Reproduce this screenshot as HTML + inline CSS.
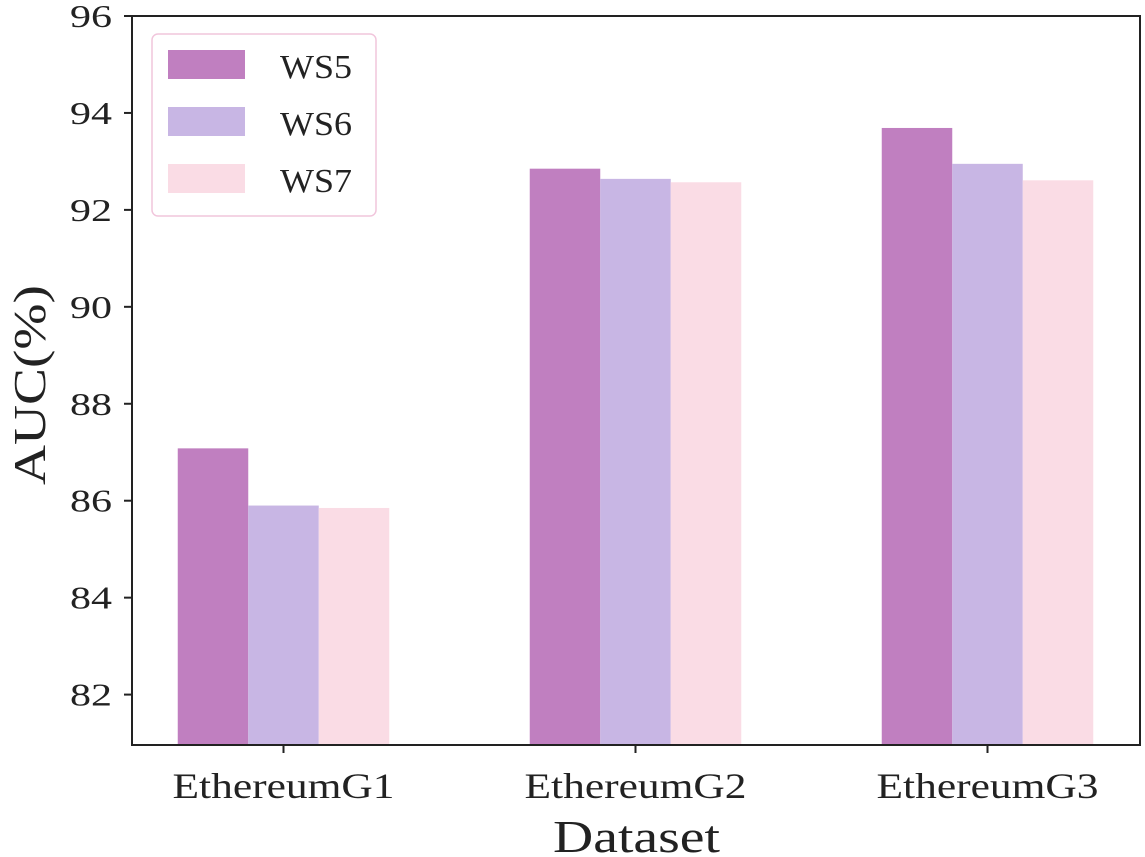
<!DOCTYPE html>
<html><head><meta charset="utf-8"><style>
body{margin:0;background:#fff}
svg{display:block;font-family:"Liberation Serif",serif}
</style></head><body>
<svg id="c" width="1145" height="857"></svg>
<script>
const categories=["EthereumG1","EthereumG2","EthereumG3"];
const seriesNames=["WS5","WS6","WS7"];
const ws5=[87.08,92.85,93.69];
const ws6=[85.9,92.64,92.95];
const ws7=[85.85,92.57,92.61];
const yTicks=[82,84,86,88,90,92,94,96];
const colors=["#c07fc0","#c8b6e4","#fadce5"];
const series=[ws5,ws6,ws7];
const svg=document.getElementById('c');
const NS="http://www.w3.org/2000/svg";
const L=132,R=1140,T=16,B=745,ymin=80.96,ymax=96;
const y=v=>B-(v-ymin)/(ymax-ymin)*(B-T);
const bw=70.5;
const xc=i=>283.5+352*i;
function mk(tag,a,txt){const e=document.createElementNS(NS,tag);for(const k in a)e.setAttribute(k,a[k]);if(txt!=null)e.textContent=txt;svg.appendChild(e);return e;}
series.forEach((s,si)=>s.forEach((v,i)=>{
 const r=mk('rect',{x:xc(i)+(si-1.5)*bw,y:y(v),width:bw,height:B-y(v),fill:colors[si]});
 
 
}));
const ax=mk('rect',{x:L,y:T,width:R-L,height:B-T,fill:'none',stroke:'#222','stroke-width':2});

yTicks.forEach(t=>{
 const l=mk('line',{x1:L-8,x2:L,y1:y(t),y2:y(t),stroke:'#222','stroke-width':2});
 
 const tx=mk('text',{x:L-20,y:y(t)+11,'text-anchor':'end','font-size':32,fill:'#222',textLength:42,lengthAdjust:'spacingAndGlyphs'},t);
 
});
categories.forEach((c,i)=>{
 const l=mk('line',{x1:xc(i),x2:xc(i),y1:B,y2:B+8,stroke:'#222','stroke-width':2});
 
 const tx=mk('text',{x:xc(i)-111,y:798,'font-size':36,fill:'#222',textLength:222,lengthAdjust:'spacingAndGlyphs'},c);
 
});
const xt=mk('text',{x:553,y:852,'font-size':46,fill:'#222',textLength:167,lengthAdjust:'spacingAndGlyphs'},'Dataset');

const yt=mk('text',{x:-100,y:0,'font-size':46,fill:'#222',textLength:200,lengthAdjust:'spacingAndGlyphs',transform:'translate(45,385) rotate(-90)'},'AUC(%)');

const lg=mk('rect',{x:152,y:34,width:224,height:182,rx:6,fill:'#fff',stroke:'#f1c6dc','stroke-width':1.5});

seriesNames.forEach((n,si)=>{
 const yy=50+si*57;
 const p=mk('rect',{x:168,y:yy,width:77,height:29,fill:colors[si]});
 
 const t=mk('text',{x:280,y:yy+28,'font-size':34,fill:'#222',textLength:72,lengthAdjust:'spacingAndGlyphs'},n);
 
});
</script>
</body></html>
